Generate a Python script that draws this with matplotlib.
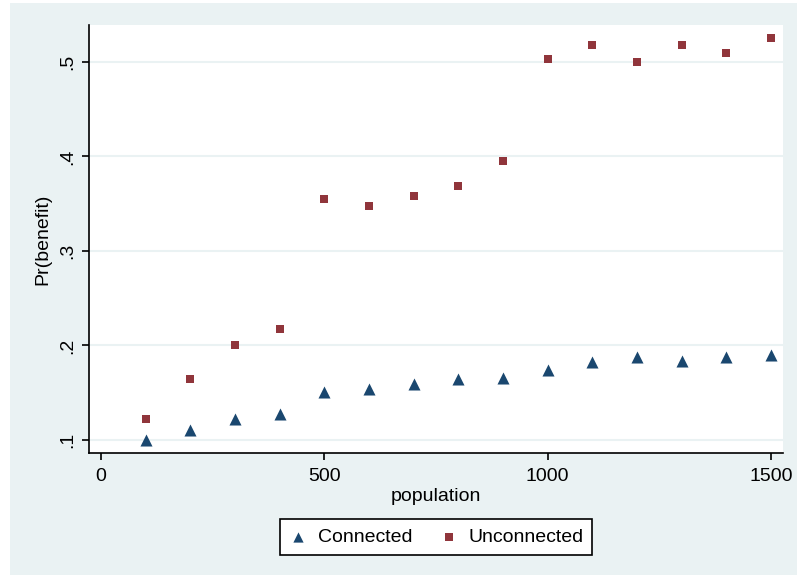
import matplotlib
matplotlib.use("Agg")
import matplotlib.pyplot as plt
from matplotlib.patches import Rectangle

population = [100, 200, 300, 400, 500, 600, 700, 800, 900, 1000, 1100, 1200, 1300, 1400, 1500]
connected = [0.100, 0.111, 0.122, 0.127, 0.151, 0.154, 0.159, 0.165, 0.166, 0.174, 0.182, 0.1875, 0.184, 0.1875, 0.1896]
unconnected = [0.122, 0.164, 0.200, 0.217, 0.355, 0.348, 0.358, 0.369, 0.395, 0.503, 0.518, 0.500, 0.518, 0.509, 0.525]
xticks = [0, 500, 1000, 1500]
yticks = [0.1, 0.2, 0.3, 0.4, 0.5]
ytick_labels = [".1", ".2", ".3", ".4", ".5"]

plt.rcParams['font.family'] = ['Liberation Sans', 'DejaVu Sans']
W, H = 797, 575
FS = 14
fig = plt.figure(figsize=(W / 100, H / 100), dpi=100)
fig.patch.set_facecolor("white")
bg = "#eaf2f3"
fig.patches.append(Rectangle((10 / W, 0), 1 - 10 / W, 1 - 3 / H, transform=fig.transFigure,
                             facecolor=bg, edgecolor="none", zorder=-10))

ax = fig.add_axes([89 / W, 1 - 453 / H, (783 - 89) / W, (453 - 25) / H])
ax.set_facecolor("white")
ax.set_xlim(-27, 1527)
ax.set_ylim(0.0862, 0.539)

ax.scatter(population, connected, marker="^", s=75, color="#1a476f", zorder=3, label="Connected", linewidths=0)
ax.scatter(population, unconnected, marker="s", s=40, color="#90353b", zorder=3, label="Unconnected", linewidths=0)

ax.set_xticks(xticks)
ax.set_xticklabels([str(v) for v in xticks], fontsize=FS)
ax.set_yticks(yticks)
ax.set_yticklabels(ytick_labels, fontsize=FS, rotation=90, va="center")
ax.tick_params(axis="both", direction="out", length=5, width=1.2, color="black")
ax.tick_params(axis="x", pad=6)
ax.tick_params(axis="y", pad=4)

for s in ["top", "right"]:
    ax.spines[s].set_visible(False)
for s in ["left", "bottom"]:
    ax.spines[s].set_linewidth(1.2)
    ax.spines[s].set_color("black")

ax.yaxis.grid(True, color=bg, linewidth=1.5)
ax.set_axisbelow(True)

ax.set_xlabel("population", fontsize=FS, labelpad=2)
ax.set_ylabel("Pr(benefit)", fontsize=FS, labelpad=6)

leg = fig.legend(loc="center", bbox_to_anchor=(436 / W, 1 - 537 / H), ncol=2, fontsize=FS,
                 frameon=True, fancybox=False, edgecolor="black", facecolor="white",
                 handletextpad=0.5, columnspacing=1.4, borderpad=0.45, handlelength=1.0,
                 markerscale=0.85)
leg.get_frame().set_linewidth(1.2)
leg.get_frame().set_alpha(1)

fig.savefig("out.png", dpi=100)
